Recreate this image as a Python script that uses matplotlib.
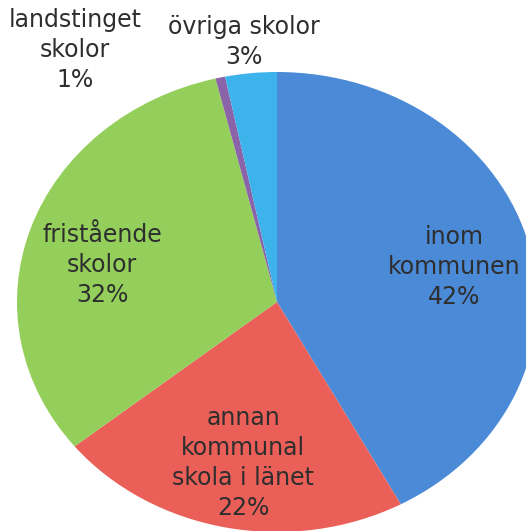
import matplotlib
matplotlib.use("Agg")
import matplotlib.pyplot as plt

categories = ["inom\nkommunen", "annan\nkommunal\nskola i länet", "fristående\nskolor",
              "landstinget\nskolor", "övriga skolor"]
values = [42.1, 22.1, 32.0, 0.6, 3.2]
colors = ["#4a8ad6", "#ea5f58", "#93cf5a", "#8a63a8", "#3db3ec"]
# label block centres in figure pixels (layout only)
label_px = [(454, 267), (243, 463), (102, 265), (75, 50), (244, 42)]

W, H = 526, 531
fig = plt.figure(figsize=(W / 100, H / 100), dpi=100)
ax = fig.add_axes([0, 0, 1, 1])
ax.pie(values, colors=colors, startangle=90, counterclock=False, radius=1,
       wedgeprops=dict(linewidth=0))
ax.set_aspect("auto")
cx, cy, rx, ry = 277, 302, 260, 230
ax.set_xlim(-cx / rx, (W - cx) / rx)
ax.set_ylim((cy - H) / ry, cy / ry)

total = sum(values)
for cat, v, (px, py) in zip(categories, values, label_px):
    txt = f"{cat}\n{round(v / total * 100):.0f}%"
    ax.text(px / W, 1 - py / H, txt, transform=ax.transAxes, ha="center", va="center",
            multialignment="center", fontsize=17, family="DejaVu Sans",
            color="#2e2e2e", linespacing=1.3)

fig.savefig("out.png", dpi=100)
